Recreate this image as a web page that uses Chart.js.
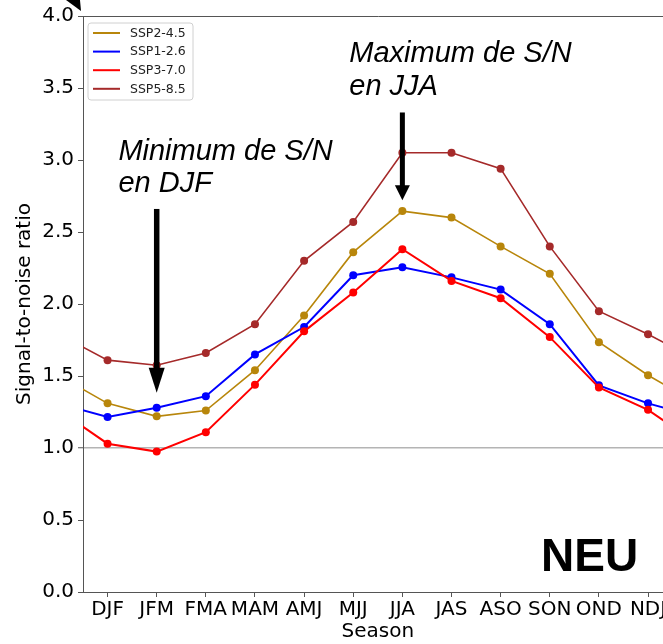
<!DOCTYPE html>
<html><head><meta charset="utf-8">
<script src="https://cdn.jsdelivr.net/npm/chart.js@4"></script>
<style>
html,body{margin:0;padding:0;overflow:hidden;background:#fff;width:663px;height:644px}
#wrap{position:relative;width:680px;height:644px}
</style></head><body>
<div id="wrap"><canvas id="c" width="680" height="644"></canvas></div>
<script>
// ---- data ----
const seasons = ['DJF','JFM','FMA','MAM','AMJ','MJJ','JJA','JAS','ASO','SON','OND','NDJ'];
const ssp245 = [1.31, 1.22, 1.26, 1.54, 1.92, 2.36, 2.645, 2.60, 2.40, 2.21, 1.735, 1.505];
const ssp126 = [1.215, 1.28, 1.36, 1.65, 1.84, 2.20, 2.255, 2.185, 2.10, 1.86, 1.435, 1.31];
const ssp370 = [1.03, 0.975, 1.11, 1.44, 1.81, 2.08, 2.38, 2.16, 2.04, 1.77, 1.42, 1.265];
const ssp585 = [1.61, 1.575, 1.66, 1.86, 2.30, 2.57, 3.05, 3.05, 2.94, 2.40, 1.95, 1.79];
const seriesNames = ['SSP2-4.5', 'SSP1-2.6', 'SSP3-7.0', 'SSP5-8.5'];
const seriesColors = ['#B8860B', '#0000FF', '#FF0000', '#A52A2A'];
const yTickValues = [0, 0.5, 1, 1.5, 2, 2.5, 3, 3.5, 4];

// cyclic series: NDJ repeated before DJF, DJF repeated after NDJ
function cyclic(vals) {
  const pts = [{x: -1, y: vals[vals.length - 1]}];
  vals.forEach((v, i) => pts.push({x: i, y: v}));
  pts.push({x: vals.length, y: vals[0]});
  return pts;
}
const allSeries = [ssp245, ssp126, ssp370, ssp585];
const datasets = allSeries.map((vals, i) => ({
  label: seriesNames[i],
  data: cyclic(vals),
  borderColor: seriesColors[i],
  backgroundColor: seriesColors[i],
  borderWidth: i === 1 || i === 2 ? 2 : 1.6,
  pointRadius: 4,
  pointHoverRadius: 4,
  pointBorderWidth: 0,
  tension: 0,
  clip: 0,
  order: 4 - i
}));

function drawArrow(ctx, xc, y0, yTip, shaftW, headW, headL) {
  ctx.fillStyle = '#000';
  ctx.fillRect(xc - shaftW / 2, y0, shaftW, yTip - headL - y0 + 1);
  ctx.beginPath();
  ctx.moveTo(xc - headW / 2, yTip - headL);
  ctx.lineTo(xc + headW / 2, yTip - headL);
  ctx.lineTo(xc, yTip);
  ctx.closePath();
  ctx.fill();
}

const notes = {
  id: 'notes',
  afterDraw(chart) {
    const {ctx, scales: {x, y}} = chart;
    ctx.save();
    // legend box
    const lx = 88, ly = 23, lw = 105, lh = 77, r = 3;
    ctx.beginPath();
    ctx.moveTo(lx + r, ly); ctx.lineTo(lx + lw - r, ly); ctx.quadraticCurveTo(lx + lw, ly, lx + lw, ly + r);
    ctx.lineTo(lx + lw, ly + lh - r); ctx.quadraticCurveTo(lx + lw, ly + lh, lx + lw - r, ly + lh);
    ctx.lineTo(lx + r, ly + lh); ctx.quadraticCurveTo(lx, ly + lh, lx, ly + lh - r);
    ctx.lineTo(lx, ly + r); ctx.quadraticCurveTo(lx, ly, lx + r, ly);
    ctx.closePath();
    ctx.fillStyle = 'rgba(255,255,255,0.85)';
    ctx.fill();
    ctx.strokeStyle = '#d0d0d0';
    ctx.lineWidth = 1;
    ctx.stroke();
    ctx.font = '12.5px "DejaVu Sans"';
    ctx.textBaseline = 'middle';
    ctx.textAlign = 'left';
    chart.data.datasets.forEach((ds, i) => {
      const ry = 33 + i * 18.6;
      ctx.strokeStyle = ds.borderColor;
      ctx.lineWidth = 2;
      ctx.beginPath(); ctx.moveTo(93, ry); ctx.lineTo(120, ry); ctx.stroke();
      ctx.fillStyle = '#222';
      ctx.fillText(ds.label, 130, ry + 0.5);
    });
    // arrows
    drawArrow(ctx, x.getPixelForValue(1), y.getPixelForValue(2.66), y.getPixelForValue(1.384), 5.5, 16, 25);
    drawArrow(ctx, x.getPixelForValue(6), y.getPixelForValue(3.33), y.getPixelForValue(2.72), 5, 15, 15);
    // annotations
    ctx.fillStyle = '#000';
    ctx.textBaseline = 'alphabetic';
    ctx.font = 'italic 29px "Liberation Sans"';
    const mx = x.getPixelForValue(0.22), my = y.getPixelForValue(3.0);
    ctx.fillText('Minimum de S/N', mx, my);
    ctx.fillText('en DJF', mx, my + 32);
    const Mx = x.getPixelForValue(4.92), My = y.getPixelForValue(3.68);
    ctx.fillText('Maximum de S/N', Mx, My);
    ctx.fillText('en JJA', Mx, My + 33);
    ctx.font = 'bold 46px "Liberation Sans"';
    ctx.fillText('NEU', 541, 571);
    // fragment of an arrow head at the top-left corner
    ctx.beginPath();
    ctx.moveTo(66, 0); ctx.lineTo(80, 0); ctx.lineTo(81, 11); ctx.closePath();
    ctx.fill();
    ctx.restore();
  }
};

Chart.defaults.font.family = '"DejaVu Sans"';
Chart.defaults.color = '#000';

new Chart(document.getElementById('c'), {
  type: 'line',
  data: { datasets },
  options: {
    responsive: false,
    animation: false,
    events: [],
    layout: { padding: { top: 16, right: 7.4, left: 0, bottom: 0 } },
    plugins: { legend: { display: false }, tooltip: { enabled: false } },
    scales: {
      x: {
        type: 'linear',
        min: -0.5,
        max: seasons.length - 0.5,
        afterBuildTicks: axis => { axis.ticks = seasons.map((_, i) => ({ value: i })); },
        afterFit: axis => { axis.height = 52; },
        ticks: {
          autoSkip: false,
          maxRotation: 0,
          padding: 1,
          font: { size: 20 },
          color: '#000',
          callback: v => seasons[v] ?? ''
        },
        grid: { drawOnChartArea: false, drawTicks: true, tickLength: 5, tickColor: '#555', tickWidth: 1 },
        border: { display: true, color: '#555', width: 1 },
        title: { display: true, text: 'Season', font: { size: 20 }, color: '#000', padding: { top: 0, bottom: 0 } }
      },
      y: {
        min: 0,
        max: 4,
        afterBuildTicks: axis => { axis.ticks = yTickValues.map(v => ({ value: v })); },
        afterFit: axis => { axis.width = 83; },
        ticks: {
          padding: 4,
          font: { size: 20 },
          color: '#000',
          callback: v => Number(v).toFixed(1)
        },
        grid: {
          drawTicks: true,
          tickLength: 5,
          tickColor: '#555',
          tickWidth: 1,
          color: c => c.tick.value === 1 ? '#b4b4b4' : (c.tick.value === 4 ? '#555' : 'rgba(0,0,0,0)'),
          lineWidth: c => c.tick.value === 1 ? 1.5 : 1
        },
        border: { display: true, color: '#555', width: 1 },
        title: { display: true, text: 'Signal-to-noise ratio', font: { size: 20 }, color: '#000', padding: { top: 13, bottom: 0 } }
      }
    }
  },
  plugins: [notes]
});
</script>
</body></html>
